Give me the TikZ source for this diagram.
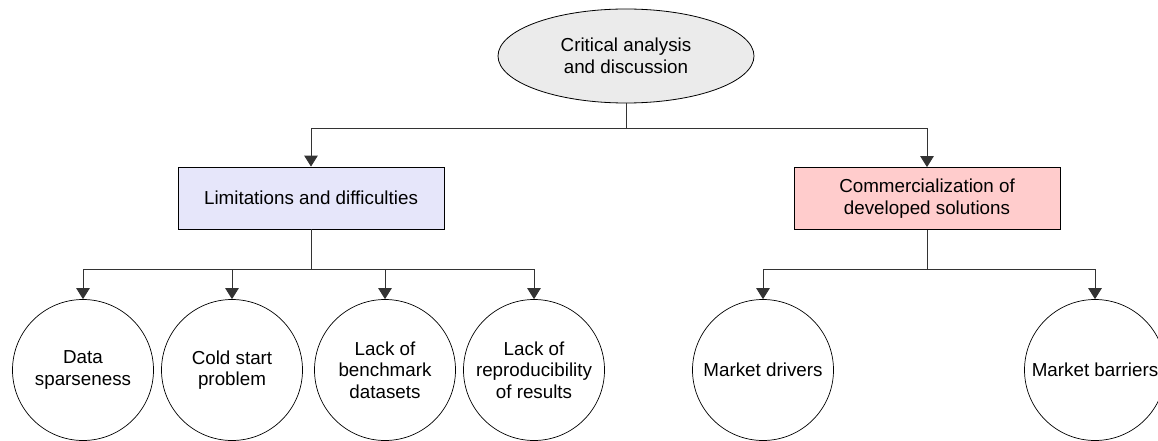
\documentclass[tikz,border=0pt]{standalone}
\usepackage{fontspec}
\setmainfont{Liberation Sans}
\usetikzlibrary{arrows.meta,shapes.geometric}
\definecolor{rootfill}{HTML}{EBEBEB}
\definecolor{limfill}{HTML}{E6E6FA}
\definecolor{comfill}{HTML}{FFCCCC}
\definecolor{wire}{HTML}{333333}
\begin{document}
\begin{tikzpicture}[x=1pt,y=-1pt,
  every node/.style={font=\fontsize{18.8}{21.7}\selectfont, align=center, inner sep=0pt},
  rootnode/.style={ellipse, draw=black, line width=0.8pt, fill=rootfill, minimum width=256pt, minimum height=94pt},
  topicbox/.style={rectangle, draw=black, line width=0.8pt, minimum width=266pt, minimum height=62pt},
  leaf/.style={circle, draw=black, line width=0.7pt, minimum size=141pt},
  wireline/.style={draw=wire, line width=0.9pt},
  arr/.style={wireline, -{Triangle[width=13.5pt,length=11pt]}}]
\useasboundingbox (0,0) rectangle (1158,441);
\clip (0,0) rectangle (1158,441);

% root
\node[rootnode] (root) at (626,56) {Critical analysis\\and discussion};

% second level
\node[topicbox, fill=limfill] (lim) at (311,198) {Limitations and difficulties};
\node[topicbox, fill=comfill] (com) at (927,198.5) {Commercialization of\\developed solutions};

% leaves
\node[leaf] (l1) at (83,370) {Data\\sparseness};
\node[leaf] (l2) at (232,370) {Cold start\\problem};
\node[leaf] (l3) at (385,370) {Lack of\\benchmark\\datasets};
\node[leaf] (l4) at (534,370) {Lack of\\reproducibility\\of results};
\node[leaf] (c1) at (763,370) {Market drivers};
\node[leaf] (c2) at (1095,370) {Market barriers};

% junctions
\coordinate (j0) at (626,128.5);
\coordinate (j1) at (311,269);
\coordinate (j2) at (927,269);

% connectors
\draw[wireline] (root.south) -- (j0);
\draw[arr] (j0) -| (lim.north);
\draw[arr] (j0) -| (com.north);

\draw[wireline] (lim.south) -- (j1);
\draw[arr] (j1) -| (l1.north);
\draw[arr] (j1) -| (l2.north);
\draw[arr] (j1) -| (l3.north);
\draw[arr] (j1) -| (l4.north);

\draw[wireline] (com.south) -- (j2);
\draw[arr] (j2) -| (c1.north);
\draw[arr] (j2) -| (c2.north);
\end{tikzpicture}
\end{document}
